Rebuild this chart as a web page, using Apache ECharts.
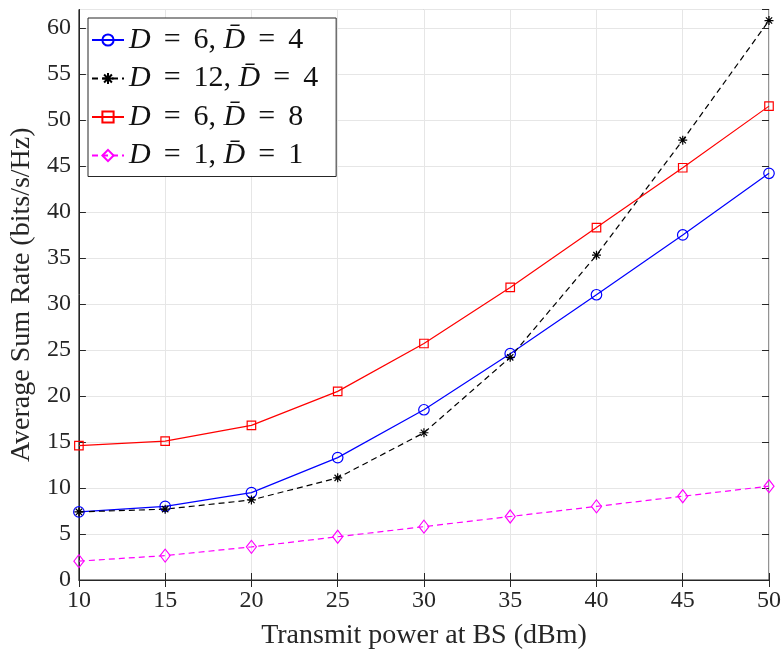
<!DOCTYPE html>
<html><head><meta charset="utf-8">
<script src="https://cdn.jsdelivr.net/npm/echarts@6/dist/echarts.min.js"></script>
<style>html,body{margin:0;padding:0;background:#fff}#c{width:784px;height:655px}</style>
</head><body><div id="c"></div>
<script>
const power = [10, 15, 20, 25, 30, 35, 40, 45, 50];
const rateD6Db4 = [7.4, 8.0, 9.5, 13.3, 18.5, 24.6, 31.0, 37.5, 44.2];
const rateD12Db4 = [7.4, 7.7, 8.7, 11.1, 16.0, 24.2, 35.3, 47.8, 60.8];
const rateD6Db8 = [14.6, 15.1, 16.8, 20.5, 25.7, 31.8, 38.3, 44.8, 51.5];
const rateD1Db1 = [2.05, 2.65, 3.6, 4.7, 5.8, 6.9, 8.0, 9.1, 10.2];
const names = ['D6Db4', 'D12Db4', 'D6Db8', 'D1Db1'];
const legendText = {
  D6Db4: '{i|D}{eq|=}6, {i|D\u0304}{eq|=}4',
  D12Db4: '{i|D}{eq|=}12, {i|D\u0304}{eq|=}4',
  D6Db8: '{i|D}{eq|=}6, {i|D\u0304}{eq|=}8',
  D1Db1: '{i|D}{eq|=}1, {i|D\u0304}{eq|=}1'
};
const font = 'Liberation Serif';
const star = 'path://M0,-10L0,10M-10,0L10,0M-7,-7L7,7M-7,7L7,-7';
function pts(arr){ return power.map((x,i)=>[x, arr[i]]); }
function mk(name, arr, color, symbol, size, dashed){
  return {
    name, type:'line', data: pts(arr), symbol, symbolSize: size,
    showSymbol:true,
    lineStyle:{color, width:1.2, type: dashed ? [6,4] : 'solid'},
    itemStyle:{color: symbol===star ? color : 'rgba(255,255,255,0)', borderColor: color, borderWidth:1.2},
    emphasis:{disabled:true}, animation:false
  };
}
const chart = echarts.init(document.getElementById('c'));
const axLabel = {fontFamily: font, fontSize: 24, color:'#262626'};
const tick = {inside:true, length:7, lineStyle:{color:'#262626'}};
chart.setOption({
  backgroundColor:'#fff',
  animation:false,
  grid:{left:76, right:15, top:9.5, bottom:73, show:true, borderColor:'#262626', borderWidth:1},
  xAxis:[{
    type:'value', min:10, max:50, interval:5,
    name:'Transmit power at BS (dBm)', nameLocation:'middle', nameGap:42,
    nameTextStyle:{fontFamily:font, fontSize:28, color:'#262626'},
    axisLabel:Object.assign({margin:9}, axLabel),
    axisLine:{lineStyle:{color:'#262626'}},
    axisTick:tick,
    splitLine:{show:true, lineStyle:{color:'#e6e6e6', width:1}}
  },{
    type:'value', min:10, max:50, interval:5, position:'top',
    axisLabel:{show:false}, axisLine:{show:false},
    axisTick:tick, splitLine:{show:false}
  }],
  yAxis:[{
    type:'value', min:0, max:62, interval:5,
    name:'Average Sum Rate (bits/s/Hz)', nameLocation:'middle', nameGap:37,
    nameTextStyle:{fontFamily:font, fontSize:28, color:'#262626'},
    axisLabel:Object.assign({margin:8, showMaxLabel:false}, axLabel),
    axisLine:{lineStyle:{color:'#262626'}},
    axisTick:tick,
    splitLine:{show:true, lineStyle:{color:'#e6e6e6', width:1}}
  },{
    type:'value', min:0, max:62, interval:5, position:'right',
    axisLabel:{show:false}, axisLine:{show:false},
    axisTick:tick, splitLine:{show:false}
  }],
  legend:{
    orient:'vertical', left:88, top:18, padding:[7,18,6,3],
    backgroundColor:'#fff', borderColor:'#262626', borderWidth:1, borderRadius:0,
    itemWidth:32, itemHeight:14, itemGap:8.5,
    data: names,
    formatter: n => legendText[n],
    textStyle:{fontFamily:font, fontSize:30, color:'#111', lineHeight:30,
      rich:{
        i:{fontFamily:font, fontSize:30, fontStyle:'italic', color:'#111', lineHeight:30},
        eq:{fontFamily:font, fontSize:30, color:'#111', padding:[0,13], lineHeight:30}
      }}
  },
  series:[
    mk('D6Db4', rateD6Db4, '#0000ff', 'circle', 10.5, false),
    mk('D12Db4', rateD12Db4, '#000000', star, 9, true),
    mk('D6Db8', rateD6Db8, '#ff0000', 'rect', 8.5, false),
    mk('D1Db1', rateD1Db1, '#ff00ff', 'diamond', [10,13], true)
  ]
});
</script></body></html>
